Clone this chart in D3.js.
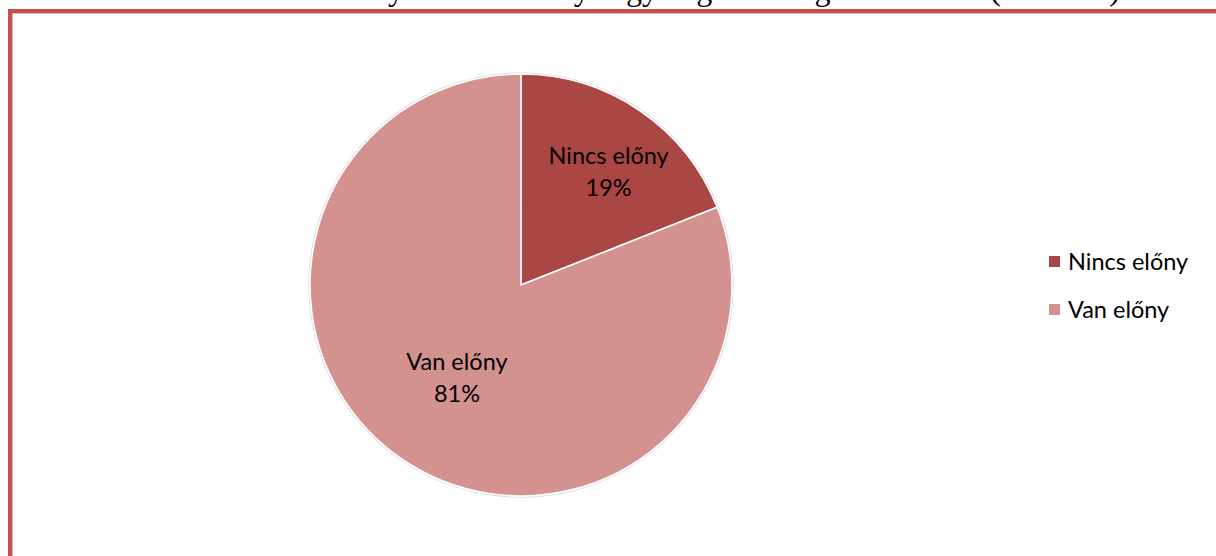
<!DOCTYPE html>
<html>
<head>
<meta charset="utf-8">
<script src="https://cdn.jsdelivr.net/npm/d3@7"></script>
<style>
  html, body { margin: 0; padding: 0; background: #fff; overflow: hidden; }
  svg { display: block; }
</style>
</head>
<body>
<svg id="chart" width="1216" height="556"></svg>
<script>
// Chart data
const categories = ["Nincs előny", "Van előny"];
const values = [19, 81];
const colors = ["#AA4643", "#D39290"];
const caption = "A nyelvtudás előnye egy végzett hallgató számára (százalék)";

const svg = d3.select("#chart");
const labelFont = "Lato, 'Open Sans', sans-serif";

// Caption line above the frame; only its descenders fall inside the page
svg.append("text")
  .attr("x", 1120).attr("y", 0)
  .attr("text-anchor", "end")
  .attr("font-family", "Liberation Serif, serif")
  .attr("font-size", 32)
  .attr("fill", "#000")
  .text(caption);

// Chart frame (runs past the right and bottom edges)
svg.append("rect")
  .attr("x", 10).attr("y", 11)
  .attr("width", 1240).attr("height", 600)
  .attr("fill", "none")
  .attr("stroke", "#C0504D")
  .attr("stroke-width", 4);
svg.append("rect")
  .attr("x", 12.5).attr("y", 13.5)
  .attr("width", 1240).attr("height", 600)
  .attr("fill", "none")
  .attr("stroke", "#E6B3B2")
  .attr("stroke-width", 1);

const cx = 521, cy = 285, r = 211;
const color = d3.scaleOrdinal().domain(categories).range(colors);

const pie = d3.pie().sort(null).value(d => d.value);
const data = pie(categories.map((c, i) => ({ cat: c, value: values[i] })));
const arc = d3.arc().innerRadius(0).outerRadius(r);

const g = svg.append("g").attr("transform", `translate(${cx},${cy})`);

// faint rim around the pie
g.append("circle").attr("r", r + 1).attr("fill", "none")
  .attr("stroke", "#d9d9d9").attr("stroke-width", 1.2);

g.selectAll("path.slice")
  .data(data)
  .join("path")
  .attr("class", "slice")
  .attr("d", arc)
  .attr("fill", d => color(d.data.cat))
  .attr("stroke", "#fff")
  .attr("stroke-width", 1.6)
  .attr("stroke-linejoin", "round");

// Data labels: category name and percentage, placed inside each slice
const labelRadius = [0.68, 0.54];
const labelShift = [[7, 6.5], [0, 0]];
const fmt = d => Math.round(d.value / d3.sum(values) * 100) + "%";
data.forEach((d, i) => {
  const lr = r * labelRadius[i];
  const la = d3.arc().innerRadius(lr).outerRadius(lr);
  const [x0, y0] = la.centroid(d);
  const x = x0 + labelShift[i][0];
  const y = y0 + labelShift[i][1];
  const t = g.append("text")
    .attr("text-anchor", "middle")
    .attr("font-family", labelFont)
    .attr("font-size", 23.5)
    .attr("fill", "#000");
  t.append("tspan").attr("x", x).attr("y", y - 9).text(d.data.cat);
  t.append("tspan").attr("x", x).attr("y", y + 23).text(fmt(d.data));
});

// Legend
const legend = svg.append("g").attr("transform", "translate(1049,256)");
const items = legend.selectAll("g.item")
  .data(categories)
  .join("g")
  .attr("class", "item")
  .attr("transform", (d, i) => `translate(0,${i * 48})`);
items.append("rect")
  .attr("width", 11).attr("height", 11)
  .attr("fill", d => color(d));
items.append("text")
  .attr("x", 19).attr("y", 14)
  .attr("font-family", labelFont)
  .attr("font-size", 23.5)
  .attr("fill", "#000")
  .text(d => d);
</script>
</body>
</html>
